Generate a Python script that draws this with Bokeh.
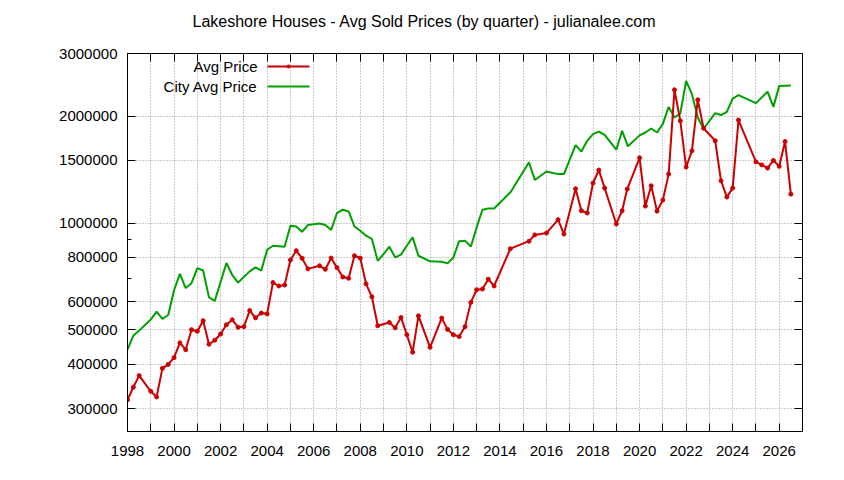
from bokeh.plotting import figure
from bokeh.models import (Range1d, FixedTicker, NumeralTickFormatter, LinearAxis, LogAxis,
                          Label, Arrow, BoxAnnotation, CustomJSTickFormatter)
from bokeh.embed import file_html
from bokeh.resources import INLINE

# ---------------- data ----------------
title_text = "Lakeshore Houses - Avg Sold Prices (by quarter) - julianalee.com"
series_names = ["Avg Price", "City Avg Price"]

years_avg = [1998.00, 1998.25, 1998.50, 1999.00, 1999.25, 1999.50, 1999.75,
             2000.00, 2000.25, 2000.50, 2000.75, 2001.00, 2001.25, 2001.50, 2001.75,
             2002.00, 2002.25, 2002.50, 2002.75, 2003.00, 2003.25, 2003.50, 2003.75,
             2004.00, 2004.25, 2004.50, 2004.75, 2005.00, 2005.25, 2005.50, 2005.75,
             2006.25, 2006.50, 2006.75, 2007.00, 2007.25, 2007.50, 2007.75,
             2008.00, 2008.25, 2008.50, 2008.75, 2009.25, 2009.50, 2009.75,
             2010.00, 2010.25, 2010.50, 2011.00, 2011.50, 2011.75,
             2012.00, 2012.25, 2012.50, 2012.75, 2013.00, 2013.25, 2013.50, 2013.75,
             2014.45, 2015.25, 2015.50, 2016.00, 2016.50, 2016.75,
             2017.25, 2017.50, 2017.75, 2018.00, 2018.25, 2018.50,
             2019.00, 2019.25, 2019.47, 2020.00, 2020.25, 2020.50, 2020.75,
             2021.00, 2021.25, 2021.50, 2021.75, 2022.00, 2022.25, 2022.50, 2022.75,
             2023.25, 2023.50, 2023.75, 2024.00, 2024.25,
             2025.00, 2025.25, 2025.50, 2025.75, 2026.00, 2026.25, 2026.50]
price_avg = [318000, 345000, 372000, 336000, 324000, 390000, 400000,
             418000, 460000, 440000, 501000, 496000, 531000, 456000, 468000,
             487000, 517000, 534000, 509000, 511000, 567000, 541000, 558000,
             555000, 680000, 665000, 669000, 787000, 836000, 796000, 743000,
             758000, 741000, 797000, 749000, 705000, 699000, 809000,
             797000, 674000, 620000, 514000, 525000, 507000, 542000,
             485000, 433000, 548000, 447000, 540000, 502000,
             485000, 479000, 511000, 598000, 649000, 652000, 695000, 665000,
             847000, 889000, 926000, 937000, 1022000, 931000,
             1249000, 1083000, 1067000, 1296000, 1410000, 1254000,
             994000, 1083000, 1246000, 1526000, 1116000, 1273000, 1080000,
             1161000, 1373000, 2371000, 1940000, 1437000, 1597000, 2222000, 1848000,
             1704000, 1315000, 1183000, 1254000, 1949000,
             1487000, 1457000, 1428000, 1500000, 1444000, 1696000, 1206000]

years_city = [1998.00, 1998.25, 1998.50, 1999.00, 1999.25, 1999.50, 1999.75,
              2000.00, 2000.25, 2000.50, 2000.75, 2001.00, 2001.25, 2001.50, 2001.75,
              2002.25, 2002.50, 2002.75, 2003.25, 2003.50, 2003.75,
              2004.00, 2004.25, 2004.75, 2005.00, 2005.25, 2005.50, 2005.75,
              2006.25, 2006.50, 2006.75, 2007.00, 2007.25, 2007.50, 2007.75,
              2008.00, 2008.25, 2008.50, 2008.75, 2009.00, 2009.25, 2009.50, 2009.75,
              2010.00, 2010.25, 2010.50, 2011.00, 2011.50, 2011.75,
              2012.00, 2012.25, 2012.50, 2012.75, 2013.00, 2013.25, 2013.50, 2013.75,
              2014.47, 2015.25, 2015.50, 2016.00, 2016.50, 2016.75,
              2017.25, 2017.50, 2017.75, 2018.00, 2018.25, 2018.50,
              2019.00, 2019.25, 2019.50, 2020.00, 2020.25, 2020.50, 2020.75,
              2021.00, 2021.25, 2021.50, 2021.75, 2022.00, 2022.25, 2022.50, 2022.75,
              2023.25, 2023.50, 2023.75, 2024.00, 2024.25,
              2025.00, 2025.50, 2025.75, 2026.00, 2026.50]
price_city = [440000, 482000, 498000, 535000, 563000, 537000, 551000,
              647000, 719000, 656000, 677000, 747000, 735000, 618000, 604000,
              772000, 714000, 680000, 731000, 750000, 735000,
              841000, 863000, 858000, 983000, 978000, 945000, 987000,
              997000, 987000, 956000, 1067000, 1090000, 1078000, 978000,
              951000, 921000, 902000, 783000, 818000, 858000, 800000, 815000,
              863000, 911000, 809000, 780000, 778000, 770000,
              800000, 889000, 892000, 858000, 972000, 1090000, 1099000, 1099000,
              1225000, 1482000, 1322000, 1397000, 1373000, 1373000,
              1657000, 1589000, 1704000, 1779000, 1809000, 1771000,
              1608000, 1817000, 1644000, 1765000, 1798000, 1845000, 1798000,
              1902000, 2123000, 1982000, 2033000, 2512000, 2306000, 1982000, 1842000,
              2039000, 2013000, 2056000, 2240000, 2291000,
              2175000, 2343000, 2123000, 2432000, 2438000]

x_tick_years = list(range(1998, 2027, 2))
x_minor_years = list(range(1999, 2028, 2))
y_tick_values = [300000, 400000, 500000, 600000, 800000, 1000000, 1500000, 2000000, 3000000]
y_minor_values = [700000, 900000]

# ---------------- styling ----------------
FONT = "Liberation Sans"
RED = "#cc0000"
GREEN = "#00a000"
GRID = "#999999"

p = figure(width=844, height=480,
           x_range=Range1d(1998, 2027), y_range=Range1d(259000, 3000000),
           y_axis_type="log", output_backend="svg", toolbar_location=None,
           min_border_left=127, min_border_right=42, min_border_top=53, min_border_bottom=49,
           title=title_text)

p.background_fill_color = "white"
p.border_fill_color = "white"
p.outline_line_color = "black"
p.outline_line_width = 1

p.title.align = "left"
p.title.offset = 65
p.title.standoff = 0
p.title.text_font = FONT
p.title.text_font_size = "16px"
p.title.text_font_style = "normal"
p.title.text_color = "black"

xt = FixedTicker(ticks=x_tick_years, minor_ticks=x_minor_years)
yt = FixedTicker(ticks=y_tick_values, minor_ticks=y_minor_values)


def style_axis(ax, minor_len):
    ax.axis_line_color = "black"
    ax.major_tick_line_color = "black"
    ax.minor_tick_line_color = "black"
    ax.major_tick_out = 0
    ax.major_tick_in = 8
    ax.minor_tick_out = 0
    ax.minor_tick_in = minor_len
    ax.major_label_text_font = FONT
    ax.major_label_text_font_size = "15px"
    ax.major_label_text_color = "black"


xaxis = p.below[0]
yaxis = p.left[0]
xaxis.ticker = xt
yaxis.ticker = yt
yaxis.formatter = NumeralTickFormatter(format="0")
style_axis(xaxis, 8)
style_axis(yaxis, 4)
xaxis.major_label_standoff = 14
yaxis.major_label_standoff = 10

# mirrored tick marks on the top and right edges (no labels)
top_axis = LinearAxis(ticker=xt, formatter=CustomJSTickFormatter(code="return ' '"))
style_axis(top_axis, 8)
top_axis.major_label_standoff = 4
right_axis = LogAxis(ticker=yt, formatter=CustomJSTickFormatter(code="return ''"))
style_axis(right_axis, 4)
right_axis.major_label_standoff = 0
p.add_layout(top_axis, "above")
p.add_layout(right_axis, "right")

p.xgrid.ticker = xt
p.ygrid.ticker = yt
for g in (p.xgrid, p.ygrid):
    g.grid_line_color = GRID
    g.grid_line_dash = "1 2"
    g.grid_line_width = 1
p.xgrid.minor_grid_line_color = GRID
p.xgrid.minor_grid_line_dash = "1 2"

# ---------------- series ----------------
p.line(years_city, price_city, line_color=GREEN, line_width=2)
p.line(years_avg, price_avg, line_color=RED, line_width=2)
p.scatter(years_avg, price_avg, marker="circle", size=4, color=RED)

# ---------------- gnuplot-like key (label then sample) ----------------
key_rows = [(series_names[0], RED, 365), (series_names[1], GREEN, 345)]
for name, col, yy in key_rows:
    p.add_layout(Label(x=130, y=yy, x_units="screen", y_units="screen", text=name,
                       text_align="right", text_baseline="middle", text_font=FONT,
                       text_font_size="15px", text_color="black"))
    p.add_layout(Arrow(x_start=140, y_start=yy, x_end=182, y_end=yy,
                       start_units="screen", end_units="screen", end=None,
                       line_color=col, line_width=2))
p.add_layout(BoxAnnotation(left=159, right=163, bottom=363, top=367,
                           left_units="screen", right_units="screen",
                           bottom_units="screen", top_units="screen",
                           fill_color=RED, fill_alpha=1, line_color=None, border_radius=2))

open("out.html", "w").write(file_html(p, INLINE))
